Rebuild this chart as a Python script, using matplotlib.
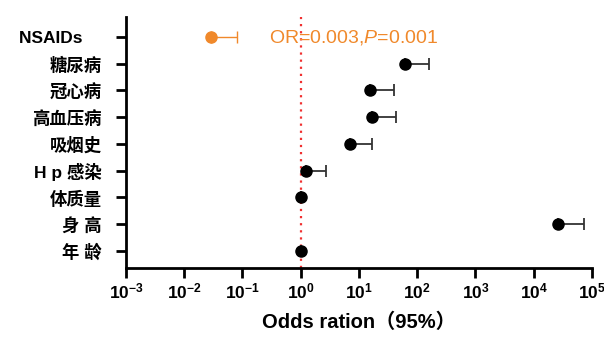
import matplotlib
matplotlib.use('Agg')
import matplotlib.pyplot as plt
import matplotlib.ticker as ticker
import numpy as np

plt.rcParams['font.family'] = ['Liberation Sans', 'Noto Sans CJK SC', 'DejaVu Sans']
plt.rcParams['mathtext.fontset'] = 'custom'
plt.rcParams['mathtext.rm'] = 'Liberation Sans'
plt.rcParams['mathtext.bf'] = 'Liberation Sans:bold'
plt.rcParams['mathtext.it'] = 'Liberation Sans:italic'

# bottom to top
labels = ['年 龄', '身 高', '体质量', 'H p 感染', '吸烟史', '高血压病', '冠心病', '糖尿病', 'NSAIDs    ']
odds = [1.0, 26500, 1.0, 1.25, 7.0, 17.0, 15.3, 62.0, 0.0285]
upper = [1.0, 73000, 1.0, 2.7, 16.5, 43.0, 40.0, 158.0, 0.08]
x_ticks = [1e-3, 1e-2, 1e-1, 1e0, 1e1, 1e2, 1e3, 1e4, 1e5]
note = 'OR=0.003,$\\it{P}$=0.001'

orange = '#F0892B'

fig = plt.figure(figsize=(6.04, 3.37), dpi=100)
ax = fig.add_axes([0.2086, 0.2047, 0.7715, 0.745])

y = np.arange(len(labels))
err = np.array(upper) - np.array(odds)
lower = np.zeros(len(odds))

ax.axvline(1, color='#F03030', linestyle=(0, (1, 2.2)), lw=1.6, zorder=1)

for i in range(len(labels)):
	c = orange if i == len(labels) - 1 else 'black'
	lw = 1.0 if c == orange else 1.3
	ax.errorbar([odds[i]], [y[i]], xerr=[[lower[i]], [err[i]]], fmt='o', color=c,
		ecolor=c if c == orange else '#333333', elinewidth=lw, capsize=4, capthick=lw,
		markersize=8, zorder=3)

ax.text(0.28, y[-1], note, color=orange, fontsize=14, va='center', ha='left', zorder=4)

ax.set_xscale('log')
ax.set_xlim(1e-3, 1e5)
ax.set_ylim(-0.64, 8.75)
ax.set_xticks(x_ticks)
ax.xaxis.set_minor_locator(ticker.NullLocator())
ax.set_xticklabels(['$\\mathbf{10^{%d}}$' % int(np.log10(v)) for v in x_ticks], fontsize=12.5)
ax.set_yticks(y)
ax.set_yticklabels(labels, fontsize=12.5, fontweight='bold')
ax.set_xlabel('Odds ration（95%）', fontsize=14.5, fontweight='bold', labelpad=8)

for s in ['top', 'right']:
	ax.spines[s].set_visible(False)
for s in ['left', 'bottom']:
	ax.spines[s].set_linewidth(2)
ax.tick_params(axis='y', direction='out', length=7.5, width=2, pad=10)
ax.tick_params(axis='x', direction='out', length=7, width=2, pad=3)

fig.savefig('out.png', dpi=100)
